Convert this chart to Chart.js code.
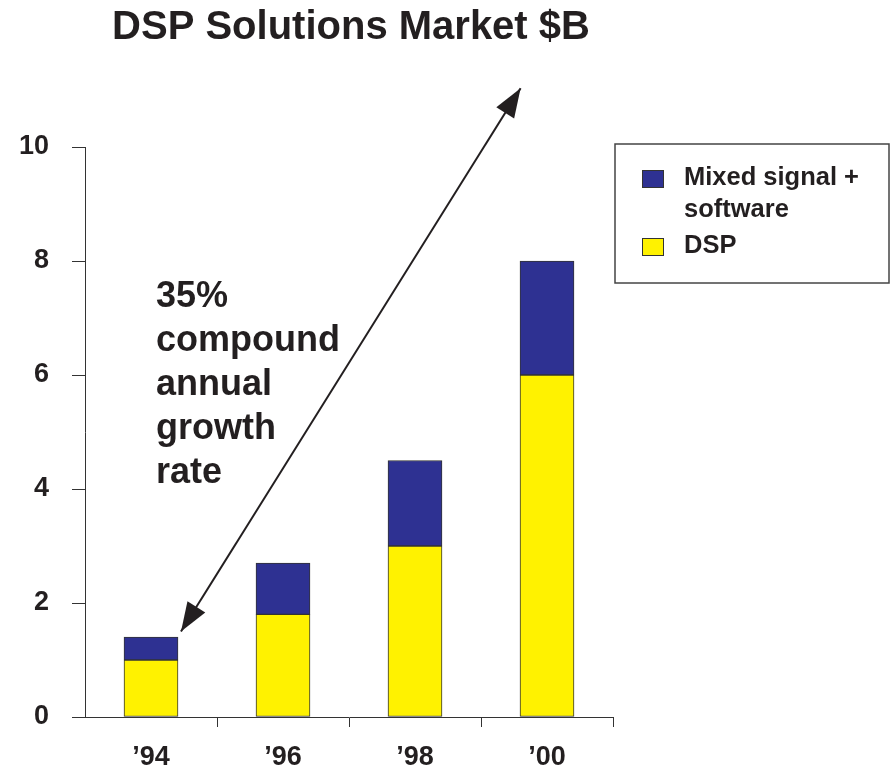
<!DOCTYPE html>
<html lang="en">
<head>
  <meta charset="UTF-8">
  <title>DSP Solutions Market $B</title>
  <script src="https://cdn.jsdelivr.net/npm/chart.js"></script>
  <style>
    body {
      margin: 0;
      background: white;
    }

    .wrap {
      width: 894px;
      height: 775px;
      position: relative;
    }
  </style>
</head>
<body>

<div class="wrap">
  <canvas id="dspChart"></canvas>
</div>

<script>
  const years = ['\u201994', '\u201996', '\u201998', '\u201900'];
  const dspValues = [1.0, 1.8, 3.0, 6.0];
  const mixedValues = [0.4, 0.9, 1.5, 2.0];
  const growthLines = ['35%', 'compound', 'annual', 'growth', 'rate'];
  const legendItems = [
    { lines: ['Mixed signal +', 'software'], color: '#2e3192' },
    { lines: ['DSP'], color: '#fff200' }
  ];

  const FONT = '"Liberation Sans", Arial, sans-serif';
  const INK = '#231f20';

  function arrowHead(ctx, x1, y1, x2, y2) {
    // head pointing at (x2, y2)
    const ang = Math.atan2(y2 - y1, x2 - x1);
    const len = 29, half = 10.5;
    ctx.beginPath();
    ctx.moveTo(x2, y2);
    ctx.lineTo(x2 - len * Math.cos(ang) + half * Math.sin(ang), y2 - len * Math.sin(ang) - half * Math.cos(ang));
    ctx.lineTo(x2 - len * Math.cos(ang) - half * Math.sin(ang), y2 - len * Math.sin(ang) + half * Math.cos(ang));
    ctx.closePath();
    ctx.fill();
  }

  const extras = {
    id: 'extras',
    afterDraw(chart) {
      const ctx = chart.ctx;
      const x = chart.scales.x, y = chart.scales.y;
      ctx.save();
      ctx.fillStyle = INK;
      ctx.strokeStyle = INK;

      // title
      ctx.font = 'bold 40px ' + FONT;
      ctx.textAlign = 'center';
      ctx.textBaseline = 'alphabetic';
      ctx.fillText('DSP Solutions Market $B', (chart.chartArea.left + chart.chartArea.right) / 2 + 2, 39);

      // growth arrow, '94 bar top up past the top of the axis
      const x1 = x.getPixelForValue(0) + 30, y1 = y.getPixelForValue(1.5);
      const x2 = x.getPixelForValue(2.8), y2 = y.getPixelForValue(11.03);
      ctx.lineWidth = 2;
      ctx.beginPath();
      ctx.moveTo(x1, y1);
      ctx.lineTo(x2, y2);
      ctx.stroke();
      arrowHead(ctx, x2, y2, x1, y1);
      arrowHead(ctx, x1, y1, x2, y2);

      // annotation text
      ctx.font = 'bold 36px ' + FONT;
      ctx.textAlign = 'left';
      growthLines.forEach((t, i) => ctx.fillText(t, 156, 307 + i * 44));

      // legend box
      ctx.lineWidth = 1.5;
      ctx.strokeStyle = '#444';
      ctx.strokeRect(615, 144, 274, 139);
      ctx.font = 'bold 25.5px ' + FONT;
      let base = 185;
      legendItems.forEach(item => {
        ctx.fillStyle = item.color;
        ctx.fillRect(642, base - 15, 22, 18);
        ctx.lineWidth = 1;
        ctx.strokeStyle = '#333';
        ctx.strokeRect(642.5, base - 14.5, 21, 17);
        ctx.fillStyle = INK;
        item.lines.forEach((t, i) => ctx.fillText(t, 684, base + i * 32));
        base += item.lines.length * 32 + 4;
      });
      ctx.restore();
    }
  };

  new Chart(document.getElementById('dspChart'), {
    type: 'bar',
    data: {
      labels: years,
      datasets: [
        { label: 'DSP', data: dspValues, backgroundColor: '#fff200', borderColor: '#333', borderWidth: 1, borderSkipped: false },
        { label: 'Mixed signal + software', data: mixedValues, backgroundColor: '#2e3192', borderColor: '#333', borderWidth: 1, borderSkipped: false }
      ]
    },
    options: {
      responsive: true,
      maintainAspectRatio: false,
      animation: false,
      layout: { padding: { top: 147, right: 281, left: 0, bottom: 0 } },
      plugins: {
        legend: { display: false },
        title: { display: false },
        tooltip: { enabled: false }
      },
      datasets: { bar: { barThickness: 54 } },
      scales: {
        x: {
          stacked: true,
          offset: true,
          grid: {
            offset: true,
            drawOnChartArea: false,
            tickLength: 10,
            color: ctx => ctx.index === 0 ? 'rgba(0,0,0,0)' : '#333'
          },
          border: { color: '#333', width: 1 },
          ticks: { color: INK, font: { family: FONT, size: 27, weight: 'bold' }, padding: 14 },
          afterFit: s => { s.height = 58; }
        },
        y: {
          stacked: true,
          min: 0,
          max: 10,
          ticks: { stepSize: 2, color: INK, font: { family: FONT, size: 27, weight: 'bold' }, padding: 23 },
          grid: { drawOnChartArea: false, tickLength: 13, color: '#333' },
          border: { color: '#333', width: 1 },
          afterFit: s => { s.width = 85; }
        }
      }
    },
    plugins: [extras]
  });
</script>

</body>
</html>
